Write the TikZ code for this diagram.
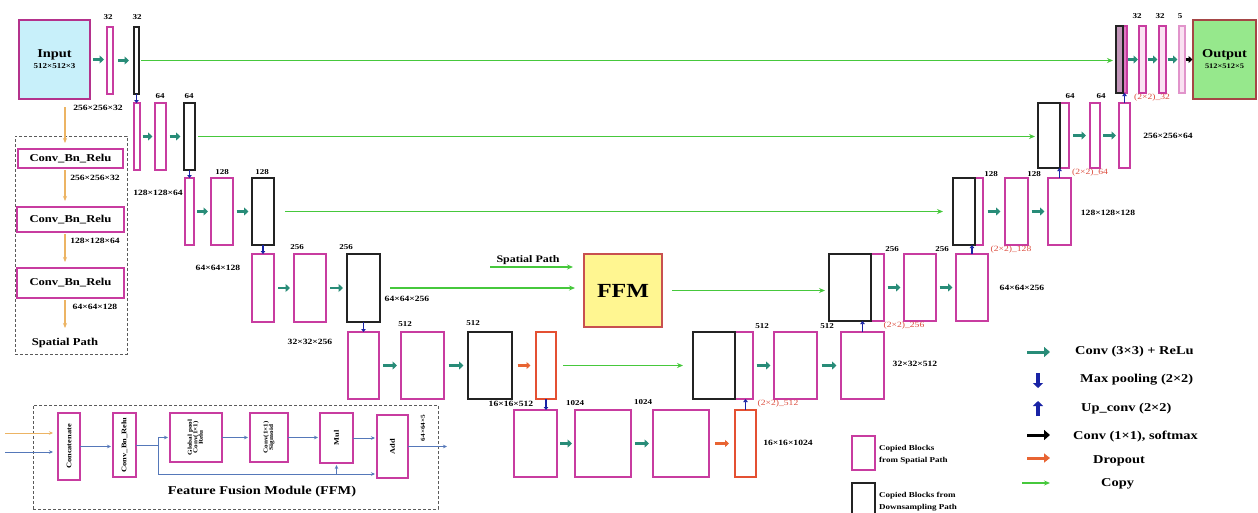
\documentclass[tikz,border=0pt]{standalone}
\usepackage{fontspec}
\setmainfont[FakeStretch=1.2]{Liberation Serif}
\usepackage{graphicx}
\usetikzlibrary{arrows.meta,calc}
\definecolor{pinkb}{RGB}{200,60,160}
\definecolor{blackb}{RGB}{35,35,35}
\definecolor{redb}{RGB}{228,80,50}
\definecolor{tealc}{RGB}{40,140,120}
\definecolor{copyg}{RGB}{70,200,60}
\definecolor{dropo}{RGB}{232,100,50}
\definecolor{poolb}{RGB}{25,35,165}
\definecolor{spor}{RGB}{236,180,100}
\definecolor{ffb}{RGB}{85,120,185}
\definecolor{redlab}{RGB}{220,75,60}
\definecolor{incyan}{RGB}{200,240,250}
\definecolor{inbord}{RGB}{180,50,140}
\definecolor{outgreen}{RGB}{150,232,140}
\definecolor{outbord}{RGB}{165,70,70}
\definecolor{ffmyel}{RGB}{255,246,145}
\definecolor{ffmbord}{RGB}{200,80,80}
\definecolor{mauve}{RGB}{195,150,185}
\definecolor{pinkfill}{RGB}{225,120,195}
\definecolor{lpink}{RGB}{250,225,242}
\definecolor{dashg}{RGB}{90,90,90}
\tikzset{
  blk/.style={draw, line width=1.5pt, inner sep=0pt, outer sep=0pt, fill=white},
  pb/.style={blk, draw=pinkb},
  bb/.style={blk, draw=blackb},
  rb/.style={blk, draw=redb},
  convar/.style={draw=tealc, line width=2.6pt, -{Triangle[length=4.5pt,width=8pt]}},
  dropar/.style={draw=dropo, line width=2.4pt, -{Triangle[length=4pt,width=7pt]}},
  softar/.style={draw=black, line width=2.4pt, -{Triangle[length=4pt,width=7pt]}},
  copyar/.style={draw=copyg, line width=1.6pt, -{Stealth[length=6pt,width=5pt]}},
  poolar/.style={draw=poolb, line width=1.4pt, -{Triangle[length=3pt,width=4.5pt]}},
  numlbl/.style={font=\fontsize{7.5}{8}\selectfont\bfseries, inner sep=0pt},
  dimlbl/.style={font=\fontsize{8}{9}\selectfont\bfseries, inner sep=0pt},
  redlbl/.style={font=\fontsize{8}{9}\selectfont, text=redlab, inner sep=0pt},
  lgtext/.style={font=\fontsize{12}{13}\selectfont\bfseries, inner sep=0pt, anchor=west},
  lgsmall/.style={font=\fontsize{7.5}{12}\selectfont\bfseries, inner sep=0pt, anchor=west, align=left},
  dashbox/.style={draw=dashg, line width=1pt, dash pattern=on 3pt off 2pt, inner sep=0pt, outer sep=0pt},
  cbrbox/.style={blk, draw=pinkb, line width=1.7pt, font=\fontsize{10.5}{12}\selectfont\bfseries},
  spar/.style={draw=spor, line width=1.2pt, -{Stealth[length=5pt,width=4pt]}},
  ffbox/.style={blk, draw=pinkb, line width=1.5pt, font=\fontsize{6}{6.5}\selectfont\bfseries},
  ffar/.style={draw=ffb, line width=0.9pt, -{Stealth[length=4pt,width=3.5pt]}},
  ffline/.style={draw=ffb, line width=0.9pt},
  bigdown/.style={draw=poolb, line width=3.5pt, -{Triangle[length=5pt,width=10pt]}},
}
\newcommand\mkblk[7][]{\node[#3, minimum width=#6pt-#4pt, minimum height=#7pt-#5pt, anchor=north west] (#2) at (#4,#5) {#1};}
\newcommand\hcon[4]{\draw[#1] ($(#2.east)!0.5!(#2.east -| #3.west)+(-#4/2,0)$) -- +(#4,0);}
\begin{document}
\begin{tikzpicture}[x=1pt,y=-1pt]
\useasboundingbox (0,0) rectangle (1258,512);
\clip (0,0) rectangle (1258,512);
\fill[white] (0,0) rectangle (1258,512);

% ---------- Input / Output / FFM ----------
\mkblk[{{\fontsize{12}{12}\selectfont Input}\\[-1pt]{\fontsize{7.5}{8}\selectfont 512×512×3}}]{Input}{blk, draw=inbord, fill=incyan, line width=1.8pt, align=center, font=\bfseries}{19}{20}{90}{99}
\mkblk[{{\fontsize{12}{12}\selectfont Output}\\[-1pt]{\fontsize{7}{8}\selectfont 512×512×5}}]{Output}{blk, draw=outbord, fill=outgreen, line width=1.8pt, align=center, font=\bfseries}{1193}{20}{1256}{99}
\mkblk[FFM]{FFM}{blk, draw=ffmbord, fill=ffmyel, line width=1.6pt, font=\fontsize{20}{22}\selectfont\bfseries}{584}{254}{662}{327}

% ---------- Encoder ----------
\mkblk{e1a}{pb}{107}{27}{113}{94}
\mkblk{e1b}{bb}{134}{27}{139}{94}
\mkblk{e2a}{pb}{134}{103}{140}{170}
\mkblk{e2b}{pb}{155}{103}{166}{170}
\mkblk{e2c}{bb}{184}{103}{195}{170}
\mkblk{e3a}{pb}{185}{178}{194}{245}
\mkblk{e3b}{pb}{211}{178}{233}{245}
\mkblk{e3c}{bb}{252}{178}{274}{245}
\mkblk{e4a}{pb}{252}{254}{274}{322}
\mkblk{e4b}{pb}{294}{254}{326}{322}
\mkblk{e4c}{bb}{347}{254}{380}{322}
\mkblk{e5a}{pb}{348}{332}{379}{399}
\mkblk{e5b}{pb}{401}{332}{444}{399}
\mkblk{e5c}{bb}{468}{332}{512}{399}
\mkblk{e5d}{rb}{536}{332}{556}{399}
\mkblk{e6a}{pb}{514}{410}{557}{477}
\mkblk{e6b}{pb}{575}{410}{631}{477}
\mkblk{e6c}{pb}{653}{410}{709}{477}
\mkblk{e6d}{rb}{735}{410}{756}{477}

% ---------- Decoder ----------
\mkblk{d5p}{pb}{735}{332}{753}{399}
\mkblk{d5c}{bb}{693}{332}{735}{399}
\mkblk{d5a}{pb}{774}{332}{817}{399}
\mkblk{d5b}{pb}{841}{332}{884}{399}
\mkblk{d4p}{pb}{871}{254}{884}{321}
\mkblk{d4c}{bb}{829}{254}{871}{321}
\mkblk{d4a}{pb}{904}{254}{936}{321}
\mkblk{d4b}{pb}{956}{254}{988}{321}
\mkblk{d3p}{pb}{975}{178}{983}{245}
\mkblk{d3c}{bb}{953}{178}{975}{245}
\mkblk{d3a}{pb}{1005}{178}{1028}{245}
\mkblk{d3b}{pb}{1048}{178}{1071}{245}
\mkblk{d2p}{pb}{1060}{103}{1069}{168}
\mkblk{d2c}{bb}{1038}{103}{1060}{168}
\mkblk{d2a}{pb}{1090}{103}{1100}{168}
\mkblk{d2b}{pb}{1119}{103}{1130}{168}
\mkblk{d1p}{pb, fill=pinkfill}{1123}{26}{1127}{93}
\mkblk{d1c}{bb, fill=mauve}{1116}{26}{1123}{93}
\mkblk{d1a}{pb, fill=lpink}{1139}{26}{1146}{93}
\mkblk{d1b}{pb, fill=lpink}{1159}{26}{1166}{93}
\mkblk{d1o}{pb, draw=pinkb!55, fill=lpink}{1179}{26}{1185}{93}

% ---------- Conv arrows ----------
\hcon{convar}{Input}{e1a}{11}
\hcon{convar}{e1a}{e1b}{11}
\hcon{convar}{e2a}{e2b}{10}
\hcon{convar}{e2b}{e2c}{11}
\hcon{convar}{e3a}{e3b}{11}
\hcon{convar}{e3b}{e3c}{12}
\hcon{convar}{e4a}{e4b}{12}
\hcon{convar}{e4b}{e4c}{13}
\hcon{convar}{e5a}{e5b}{14}
\hcon{convar}{e5b}{e5c}{15}
\hcon{dropar}{e5c}{e5d}{13}
\hcon{convar}{e6a}{e6b}{12}
\hcon{convar}{e6b}{e6c}{14}
\hcon{dropar}{e6c}{e6d}{14}
\hcon{convar}{d5p}{d5a}{14}
\hcon{convar}{d5a}{d5b}{15}
\hcon{convar}{d4p}{d4a}{13}
\hcon{convar}{d4a}{d4b}{13}
\hcon{convar}{d3p}{d3a}{13}
\hcon{convar}{d3a}{d3b}{13}
\hcon{convar}{d2p}{d2a}{13}
\hcon{convar}{d2a}{d2b}{13}
\hcon{convar}{d1p}{d1a}{10}
\hcon{convar}{d1a}{d1b}{10}
\hcon{convar}{d1b}{d1o}{10}
\hcon{softar}{d1o}{Output}{7}

% ---------- Copy arrows ----------
\draw[copyar] ([xshift=2pt]e1b.east) -- ($(e1b.east -| d1c.west)+(-3,0)$);
\draw[copyar] ([xshift=3pt]e2c.east) -- ($(e2c.east -| d2c.west)+(-3,0)$);
\draw[copyar] ([xshift=11pt]e3c.east) -- ($(e3c.east -| d3c.west)+(-10,0)$);
\draw[copyar] ([xshift=10pt]e4c.east) -- ($(e4c.east -| FFM.west)+(-9,0)$);
\draw[copyar] ([xshift=10pt]FFM.east) -- ($(FFM.east -| d4c.west)+(-4,0)$);
\draw[copyar] ([xshift=7pt]e5d.east) -- ($(e5d.east -| d5c.west)+(-10,0)$);
\coordinate (spS) at (490,267);
\draw[copyar] (spS) -- ($(spS -| FFM.west)+(-11,0)$);
\node[font=\fontsize{10}{11}\selectfont\bfseries, inner sep=0pt] (spT) at (528,260) {Spatial Path};

% ---------- Pooling / up-conv arrows ----------
\draw[poolar] (e1b.south) -- (e1b.south |- e2a.north);
\draw[poolar] (e2c.south) -- (e2c.south |- e3a.north);
\draw[poolar] (e3c.south) -- (e3c.south |- e4a.north);
\draw[poolar] (e4c.south) -- (e4c.south |- e5a.north);
\draw[poolar] (e5d.south) -- (e5d.south |- e6a.north);
\draw[poolar] (d2b.north) -- (d2b.north |- d1c.south);
\draw[poolar] (d3b.north) -- (d3b.north |- d2c.south);
\draw[poolar] (d4b.north) -- (d4b.north |- d3c.south);
\draw[poolar] (d5b.north) -- (d5b.north |- d4c.south);
\draw[poolar] (e6d.north) -- (e6d.north |- d5c.south);

% ---------- Channel labels ----------
\node[numlbl] (n1) at (108,17) {32};
\node[numlbl] (n2) at (137,17) {32};
\node[numlbl] (n3) at (160,96) {64};
\node[numlbl] (n4) at (189,96) {64};
\node[numlbl] (n5) at (222,172) {128};
\node[numlbl] (n6) at (262,172) {128};
\node[numlbl] (n7) at (297,247) {256};
\node[numlbl] (n8) at (346,247) {256};
\node[numlbl] (n9) at (405,324) {512};
\node[numlbl] (n10) at (473,323) {512};
\node[numlbl] (n11) at (575,403) {1024};
\node[numlbl] (n12) at (643,402) {1024};
\node[numlbl] (n13) at (762,326) {512};
\node[numlbl] (n14) at (827,326) {512};
\node[numlbl] (n15) at (892,249) {256};
\node[numlbl] (n16) at (942,249) {256};
\node[numlbl] (n17) at (991,174) {128};
\node[numlbl] (n18) at (1034,174) {128};
\node[numlbl] (n19) at (1070,96) {64};
\node[numlbl] (n20) at (1101,96) {64};
\node[numlbl] (n21) at (1137,16) {32};
\node[numlbl] (n22) at (1160,16) {32};
\node[numlbl] (n23) at (1180,16) {5};

% ---------- Size labels ----------
\node[dimlbl] (s1) at (98,108) {256×256×32};
\node[dimlbl] (s2) at (158,193) {128×128×64};
\node[dimlbl] (s3) at (218,268) {64×64×128};
\node[dimlbl] (s4) at (310,342) {32×32×256};
\node[dimlbl] (s5) at (407,299) {64×64×256};
\node[dimlbl] (s6) at (511,404) {16×16×512};
\node[dimlbl] (s7) at (788,443) {16×16×1024};
\node[dimlbl] (s8) at (915,364) {32×32×512};
\node[dimlbl] (s9) at (1022,288) {64×64×256};
\node[dimlbl] (s10) at (1108,213) {128×128×128};
\node[dimlbl] (s11) at (1168,136) {256×256×64};
\node[redlbl] (r1) at (1152,98) {(2×2)\_32};
\node[redlbl] (r2) at (1090,173) {(2×2)\_64};
\node[redlbl] (r3) at (1011,250) {(2×2)\_128};
\node[redlbl] (r4) at (904,326) {(2×2)\_256};
\node[redlbl] (r5) at (778,404) {(2×2)\_512};

% ---------- Spatial path module ----------
\mkblk{spbox}{dashbox}{15}{136}{127}{354}
\mkblk[Conv\_Bn\_Relu]{cbr1}{cbrbox}{18}{149}{123}{168}
\mkblk[Conv\_Bn\_Relu]{cbr2}{cbrbox}{17}{207}{124}{232}
\mkblk[Conv\_Bn\_Relu]{cbr3}{cbrbox}{17}{268}{124}{298}
\coordinate (sp0) at (65,107);
\coordinate (sp4) at (65,328);
\draw[spar] (sp0) -- ($(cbr1.north -| sp0)+(0,-6)$);
\draw[spar] ($(cbr1.south -| sp0)+(0,2)$) -- ($(cbr2.north -| sp0)+(0,-6)$);
\draw[spar] ($(cbr2.south -| sp0)+(0,2)$) -- ($(cbr3.north -| sp0)+(0,-6)$);
\draw[spar] ($(cbr3.south -| sp0)+(0,2)$) -- (sp4);
\node[dimlbl] (p1) at (95,178) {256×256×32};
\node[dimlbl] (p2) at (95,241) {128×128×64};
\node[dimlbl] (p3) at (95,307) {64×64×128};
\node[font=\fontsize{10.5}{11}\selectfont\bfseries, inner sep=0pt] (spL) at (65,343) {Spatial Path};

% ---------- Feature fusion module ----------
\mkblk{ffbx}{dashbox}{33}{405}{438}{509}
\mkblk[\rotatebox{90}{\fontsize{7}{7}\selectfont Concatenate}]{fc1}{ffbox}{58}{413}{80}{480}
\mkblk[\rotatebox{90}{\fontsize{7}{7}\selectfont Conv\_Bn\_Relu}]{fc2}{ffbox}{113}{413}{136}{477}
\mkblk[\rotatebox{90}{\begin{tabular}{@{}c@{}}Global pool\\[-1pt]Conv(1×1)\\[-1pt]Relu\end{tabular}}]{fc3}{ffbox}{170}{413}{222}{462}
\mkblk[\rotatebox{90}{\begin{tabular}{@{}c@{}}Conv(1×1)\\[-1pt]Sigmoid\end{tabular}}]{fc4}{ffbox}{250}{413}{288}{462}
\mkblk[\rotatebox{90}{\fontsize{7}{7}\selectfont Mul}]{fc5}{ffbox}{320}{413}{353}{463}
\mkblk[\rotatebox{90}{\fontsize{7}{7}\selectfont Add}]{fc6}{ffbox}{377}{415}{408}{478}
\coordinate (fi1) at (5,433);
\coordinate (fi2) at (5,452);
\draw[ffar, draw=spor] (fi1) -- ($(fi1 -| fc1.west)+(-5,0)$);
\draw[ffar] (fi2) -- ($(fi2 -| fc1.west)+(-5,0)$);
\draw[ffar] (fc1.east) -- ($(fc1.east -| fc2.west)+(-2,0)$);
\coordinate (br) at (158,445);
\coordinate (bt) at (158,474);
\draw[ffline] (fc2.east) -- (br);
\draw[ffar] (br) |- ($(fc3.west)+(-2,0)$);
\draw[ffar] (br) -- (bt) -- ($(bt -| fc6.west)+(-2,0)$);
\draw[ffar] (bt -| fc5.south) -- ($(fc5.south)+(0,2)$);
\draw[ffar] (fc3.east) -- ($(fc3.east -| fc4.west)+(-2,0)$);
\draw[ffar] (fc4.east) -- ($(fc4.east -| fc5.west)+(-2,0)$);
\draw[ffar] (fc5.east) -- ($(fc5.east -| fc6.west)+(-2,0)$);
\coordinate (fo) at (447,446.5);
\draw[ffar] (fc6.east) -- (fo);
\node[font=\fontsize{6}{6}\selectfont\bfseries, inner sep=0pt, rotate=90] (fol) at (423,428) {64×64×5};
\node[font=\fontsize{12}{12}\selectfont\bfseries, inner sep=0pt] (ffT) at (262,492) {Feature Fusion Module (FFM)};

% ---------- Legend ----------
\coordinate (lg1) at (1027,352);
\draw[convar, line width=3pt, -{Triangle[length=6pt,width=10pt]}] (lg1) -- +(23,0);
\node[lgtext] (lt1) at (1075,352) {Conv (3×3) + ReLu};
\coordinate (lg2) at (1038,373);
\draw[bigdown] (lg2) -- +(0,15);
\node[lgtext] (lt2) at (1080,380) {Max pooling (2×2)};
\coordinate (lg3) at (1038,416);
\draw[bigdown] (lg3) -- +(0,-15);
\node[lgtext] (lt3) at (1081,409) {Up\_conv (2×2)};
\coordinate (lg4) at (1027,435);
\draw[softar, line width=3pt, -{Triangle[length=6pt,width=10pt]}] (lg4) -- +(23,0);
\node[lgtext] (lt4) at (1073,437) {Conv (1×1), softmax};
\coordinate (lg5) at (1027,458);
\draw[dropar, line width=3pt, -{Triangle[length=6pt,width=9pt]}] (lg5) -- +(23,0);
\node[lgtext] (lt5) at (1093,461) {Dropout};
\coordinate (lg6) at (1022,483);
\draw[copyar, line width=1.8pt] (lg6) -- +(28,0);
\node[lgtext] (lt6) at (1101,484) {Copy};
\mkblk{lgp}{pb}{852}{436}{875}{470}
\mkblk{lgb}{bb}{852}{483}{875}{520}
\node[lgsmall] (lgpt) at (879,455) {Copied Blocks\\from Spatial Path};
\node[lgsmall] (lgbt) at (879,502) {Copied Blocks from\\Downsampling Path};
\end{tikzpicture}
\end{document}
